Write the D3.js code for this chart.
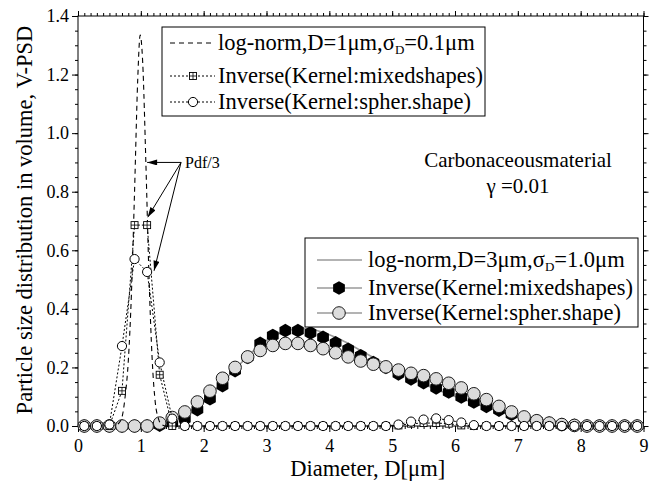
<!DOCTYPE html>
<html>
<head>
<meta charset="utf-8">
<script src="https://cdn.jsdelivr.net/npm/d3@7"></script>
<style>
body{margin:0;background:#fff}
text{font-family:"Liberation Serif","Times New Roman",serif;fill:#000}
</style>
</head>
<body>
<div id="my_dataviz"></div>
<script>
var margin = {top: 16, right: 22.5, bottom: 57, left: 78},
width = 666 - margin.left - margin.right,
height = 483 - margin.top - margin.bottom, svg;

// inversion grid (diameter, um)
var dGrid=[0.1,0.3,0.5,0.7,0.9,1.1,1.3,1.5,1.7,1.9,2.1,2.3,2.5,2.7,2.9,3.1,3.3,3.5,3.7,3.9,
4.1,4.3,4.5,4.7,4.9,5.1,5.3,5.5,5.7,5.9,6.1,6.3,6.5,6.7,6.9,7.1,7.3,7.5,7.7,7.9,8.1,8.3,8.5,8.7,8.9];

// D=1um case, inverse results
var mixed1=[0,0,0,0.12,0.686,0.686,0.175,0,0,0,0,0,0,0,0,0,0,0,0,0,
0,0,0,0,0,0.002,0.008,0.01,0.01,0.008,0.002,0,0,0,0,0,0,0,0,0,0,0,0,0,0];
var spher1=[0,0,0.005,0.273,0.57,0.526,0.217,0.025,0,0,0,0,0,0,0,0,0,0,0,0,
0,0,0,0,0,0.005,0.015,0.022,0.026,0.02,0.012,0.003,0,0,0,0,0,0,0,0,0,0,0,0,0];

// D=3um case, inverse results
var mixed3=[0,0,0,0,0,0,0.003,0.01,0.024,0.056,0.093,0.138,0.189,0.234,0.282,0.309,0.326,0.326,0.318,0.303,
0.284,0.262,0.24,0.217,0.2,0.178,0.161,0.148,0.13,0.116,0.099,0.082,0.067,0.054,0.04,0.028,0.018,0.01,0.005,0.002,0,0,0,0,0];
var spher3=[0,0,0,0,0,0,0.01,0.029,0.048,0.082,0.119,0.163,0.2,0.236,0.258,0.275,0.282,0.282,0.275,0.264,
0.25,0.236,0.222,0.211,0.202,0.191,0.18,0.172,0.161,0.146,0.13,0.11,0.09,0.067,0.048,0.031,0.018,0.01,0.005,0.002,0,0,0,0,0];

// log-normal references
var lnD1x=[0.5,0.6,0.65,0.7,0.75,0.8,0.85,0.9,0.95,0.99,1.03,1.08,1.13,1.18,1.23,1.28,1.33,1.4,1.5];
var lnD1y=[0,0.002,0.01,0.03,0.1,0.22,0.45,0.8,1.18,1.335,1.24,0.9,0.51,0.23,0.08,0.025,0.005,0,0];
var lnD3x=[0,0.5,1.0,1.2,1.4,1.6,1.8,2.0,2.2,2.4,2.6,2.8,3.0,3.2,3.4,3.6,3.8,4.0,4.2,4.4,
4.6,4.8,5.0,5.2,5.4,5.6,5.8,6.0,6.2,6.4,6.6,6.8,7.0,7.2,7.4,7.6,7.8,8.0,8.5,9.0];
var lnD3y=[0,0,0,0.002,0.01,0.028,0.053,0.088,0.128,0.172,0.216,0.258,0.292,0.316,0.329,0.332,0.326,0.312,0.293,0.27,
0.246,0.222,0.198,0.175,0.154,0.134,0.117,0.101,0.086,0.071,0.057,0.044,0.033,0.023,0.015,0.009,0.005,0.003,0.001,0];

var xTicks=[0,1,2,3,4,5,6,7,8,9];
var yTicks=[0,0.2,0.4,0.6,0.8,1.0,1.2,1.4];

// "Pdf/3" arrows: start and tip in data units
var pdfArrows=[[1.64,0.9,1.1,0.9],[1.64,0.9,1.11,0.713],[1.64,0.9,1.21,0.53]];

var legend1=["log-norm,D=1\u03bcm,\u03c3|D|=0.1\u03bcm","Inverse(Kernel:mixedshapes)","Inverse(Kernel:spher.shape)"];
var legend2=["log-norm,D=3\u03bcm,\u03c3|D|=1.0\u03bcm","Inverse(Kernel:mixedshapes)","Inverse(Kernel:spher.shape)"];

svg = d3.select("#my_dataviz")
  .append("svg")
  .attr("width", width + margin.left + margin.right)
  .attr("height", height + margin.top + margin.bottom)
  .append("g")
  .attr("transform","translate(" + margin.left + "," + margin.top + ")");

var x = d3.scaleLinear().domain([0,9]).range([0,width]);
var y = d3.scaleLinear().domain([0,1.4]).range([height,0]);

svg.append("defs").append("marker")
  .attr("id","arrow")
  .attr("viewBox","0 0 10 6")
  .attr("refX",10).attr("refY",3)
  .attr("markerWidth",11).attr("markerHeight",6)
  .attr("markerUnits","userSpaceOnUse")
  .attr("orient","auto")
  .append("path").attr("d","M0,0L10,3L0,6z").attr("fill","#000");

function Axes(){
  // minor ticks
  svg.append("g").attr("transform","translate(0,"+height+")")
    .call(d3.axisBottom(x).tickValues(d3.range(0,9.001,0.1)).tickSize(3).tickFormat(""));
  svg.append("g")
    .call(d3.axisTop(x).tickValues(d3.range(0,9.001,0.1)).tickSize(3).tickFormat(""));
  svg.append("g")
    .call(d3.axisLeft(y).tickValues(d3.range(0,1.401,0.05)).tickSize(3).tickFormat(""));
  svg.append("g").attr("transform","translate("+width+",0)")
    .call(d3.axisRight(y).tickValues(d3.range(0,1.401,0.05)).tickSize(3).tickFormat(""));
  // major ticks
  svg.append("g").attr("id","xaxis").attr("transform","translate(0,"+height+")")
    .call(d3.axisBottom(x).tickValues(xTicks).tickSize(6).tickPadding(7).tickFormat(d3.format("d")));
  svg.append("g")
    .call(d3.axisTop(x).tickValues(xTicks).tickSize(5).tickFormat(""));
  svg.append("g").attr("id","yaxis")
    .call(d3.axisLeft(y).tickValues(yTicks).tickSize(6).tickPadding(3).tickFormat(d3.format(".1f")));
  svg.append("g").attr("transform","translate("+width+",0)")
    .call(d3.axisRight(y).tickValues(yTicks).tickSize(5).tickFormat(""));

  svg.selectAll(".domain").remove();
  svg.selectAll(".tick line").attr("stroke","#000");
  svg.selectAll(".tick text").attr("font-size","18").attr("font-family","Liberation Serif, serif");

  svg.append("rect")
    .attr("width",width).attr("height",height)
    .attr("fill","none").attr("stroke","#000").attr("stroke-width",1);

  svg.append("text")
    .attr("text-anchor","middle")
    .attr("x",width/2+7)
    .attr("y",height+50)
    .attr("font-size","22.5")
    .text("Diameter, D[\u03bcm]");

  svg.append("text")
    .attr("text-anchor","middle")
    .attr("transform","rotate(-90)")
    .attr("x",-(height/2)+1)
    .attr("y",-46)
    .attr("font-size","22.5")
    .text("Particle size distribution in volume, V-PSD");
}

function hexPath(r){
  var p=[];
  for(var i=0;i<6;i++){
    var a=Math.PI/3*i+Math.PI/6;
    p.push([r*Math.cos(a),r*Math.sin(a)]);
  }
  return "M"+p.join("L")+"Z";
}

function squareMark(g,cx,cy){
  g.append("rect").attr("x",cx-3.5).attr("y",cy-3.5).attr("width",7).attr("height",7)
    .attr("fill","#fff").attr("stroke","#000").attr("stroke-width",0.9);
  g.append("path").attr("d","M"+(cx-3.5)+","+cy+"H"+(cx+3.5)+"M"+cx+","+(cy-3.5)+"V"+(cy+3.5))
    .attr("stroke","#000").attr("stroke-width",0.8);
}

function DrawChart(){
  Axes();

  var lineLin = d3.line()
    .x(function(d){ return x(d[0]); })
    .y(function(d){ return y(d[1]); });
  var lineSmooth = d3.line()
    .x(function(d){ return x(d[0]); })
    .y(function(d){ return y(d[1]); })
    .curve(d3.curveMonotoneX);

  var ln3 = lnD3x.map(function(v,i){ return [v,lnD3y[i]]; });
  var ln1 = lnD1x.map(function(v,i){ return [v,lnD1y[i]]; });
  var m1 = dGrid.map(function(v,i){ return [v,mixed1[i]]; });
  var s1 = dGrid.map(function(v,i){ return [v,spher1[i]]; });
  var m3 = dGrid.map(function(v,i){ return [v,mixed3[i]]; });
  var s3 = dGrid.map(function(v,i){ return [v,spher3[i]]; });

  // D=3 case
  svg.append("path").datum(ln3)
    .attr("fill","none").attr("stroke","#9a9a9a").attr("stroke-width",1.6)
    .attr("d",lineSmooth);

  svg.selectAll("hexes").data(m3).enter()
    .append("path")
    .attr("transform",function(d){ return "translate("+x(d[0])+","+y(d[1])+")"; })
    .attr("d",hexPath(6.8))
    .attr("fill","#000");

  svg.selectAll("grayDots").data(s3).enter()
    .append("circle")
    .attr("cx",function(d){ return x(d[0]); })
    .attr("cy",function(d){ return y(d[1]); })
    .attr("r",6.3)
    .attr("fill","#dcdcdc").attr("stroke","#1a1a1a").attr("stroke-width",1);

  // D=1 case
  svg.append("path").datum(ln1)
    .attr("fill","none").attr("stroke","#000").attr("stroke-width",1.1)
    .attr("stroke-dasharray","5,4")
    .attr("d",lineSmooth);

  svg.append("path").datum(m1)
    .attr("fill","none").attr("stroke","#000").attr("stroke-width",1)
    .attr("stroke-dasharray","2,2")
    .attr("d",lineLin);
  svg.append("path").datum(s1)
    .attr("fill","none").attr("stroke","#000").attr("stroke-width",1)
    .attr("stroke-dasharray","2,2")
    .attr("d",lineLin);

  var sq = svg.append("g");
  m1.forEach(function(d){ squareMark(sq,x(d[0]),y(d[1])); });

  svg.selectAll("whiteDots").data(s1).enter()
    .append("circle")
    .attr("cx",function(d){ return x(d[0]); })
    .attr("cy",function(d){ return y(d[1]); })
    .attr("r",4.6)
    .attr("fill","#fff").attr("stroke","#000").attr("stroke-width",1);

  // annotations
  svg.selectAll("arrows").data(pdfArrows).enter()
    .append("line")
    .attr("x1",function(d){ return x(d[0]); })
    .attr("y1",function(d){ return y(d[1]); })
    .attr("x2",function(d){ return x(d[2]); })
    .attr("y2",function(d){ return y(d[3]); })
    .attr("stroke","#000").attr("stroke-width",1)
    .attr("marker-end","url(#arrow)");

  svg.append("text").attr("x",107).attr("y",152).attr("font-size","16").text("Pdf/3");

  svg.append("text").attr("text-anchor","middle").attr("x",440).attr("y",151)
    .attr("font-size","21").text("Carbonaceousmaterial");
  svg.append("text").attr("text-anchor","middle").attr("x",440).attr("y",177)
    .attr("font-size","21").text("\u03b3 =0.01");

  Legends();
}

function legendText(t,sx,sy,label){
  var parts=label.split("|");
  var tx=svg.append("text").attr("x",sx).attr("y",sy).attr("font-size","22.5");
  tx.append("tspan").text(parts[0]);
  if(parts.length>1){
    tx.append("tspan").attr("dy",4).attr("font-size","13").text(parts[1]);
    tx.append("tspan").attr("dy",-4).text(parts[2]);
  }
}

function Legends(){
  // upper-left legend
  svg.append("rect").attr("x",84).attr("y",11).attr("width",323).attr("height",89)
    .attr("fill","#fff").attr("stroke","#000").attr("stroke-width",1);
  var rows1=[27,60,86];
  svg.append("line").attr("x1",92).attr("x2",137).attr("y1",rows1[0]).attr("y2",rows1[0])
    .attr("stroke","#000").attr("stroke-dasharray","5,4");
  svg.append("line").attr("x1",92).attr("x2",137).attr("y1",rows1[1]).attr("y2",rows1[1])
    .attr("stroke","#000").attr("stroke-dasharray","2,2");
  svg.append("line").attr("x1",92).attr("x2",137).attr("y1",rows1[2]).attr("y2",rows1[2])
    .attr("stroke","#000").attr("stroke-dasharray","2,2");
  squareMark(svg,115,rows1[1]);
  svg.append("circle").attr("cx",115).attr("cy",rows1[2]).attr("r",4.6)
    .attr("fill","#fff").attr("stroke","#000");
  legend1.forEach(function(t,i){ legendText(t,140,rows1[i]+7,t); });

  // lower-right legend
  svg.append("rect").attr("x",227).attr("y",222).attr("width",333).attr("height",89)
    .attr("fill","#fff").attr("stroke","#000").attr("stroke-width",1);
  var rows2=[244,272,297];
  rows2.forEach(function(r){
    svg.append("line").attr("x1",239).attr("x2",284).attr("y1",r).attr("y2",r)
      .attr("stroke","#9a9a9a").attr("stroke-width",1.6);
  });
  svg.append("path").attr("transform","translate(261,"+rows2[1]+")")
    .attr("d",hexPath(6.8)).attr("fill","#000");
  svg.append("circle").attr("cx",261).attr("cy",rows2[2]).attr("r",6.3)
    .attr("fill","#dcdcdc").attr("stroke","#1a1a1a");
  legend2.forEach(function(t,i){ legendText(t,290,rows2[i]+7,t); });
}

DrawChart();
</script>
</body>
</html>
